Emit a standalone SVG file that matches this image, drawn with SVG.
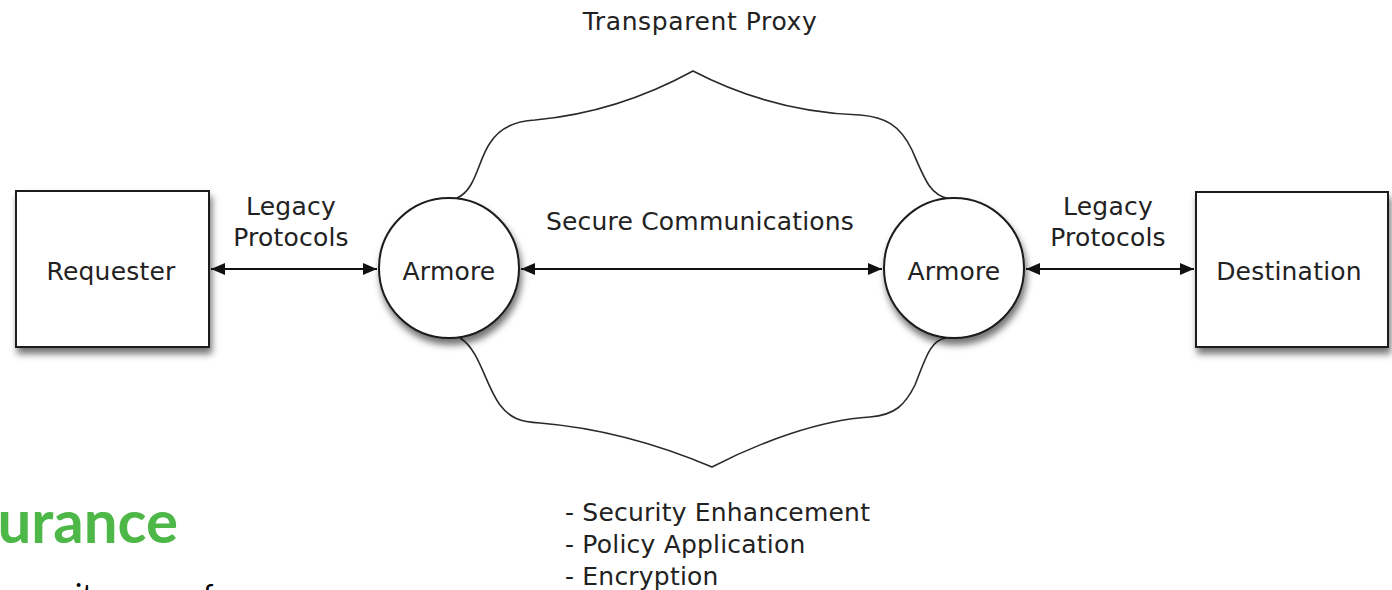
<svg xmlns="http://www.w3.org/2000/svg" width="1392" height="590" viewBox="0 0 1392 590">
<defs>
<style>
.lbl{font-family:"DejaVu Sans","Liberation Sans",sans-serif;font-size:25px;fill:#222;letter-spacing:0.2px;}
.node{fill:#fff;stroke:#1a1a1a;stroke-width:2;}
.conn{stroke:#111;stroke-width:2;fill:none;}
.cloud{fill:none;stroke:#2a2a2a;stroke-width:1.6;}
</style>
<filter id="sh" x="-20%" y="-20%" width="150%" height="150%">
<feDropShadow dx="2" dy="6" stdDeviation="3.5" flood-color="#000" flood-opacity="0.55"/>
</filter>
<marker id="ah" viewBox="0 0 14 12" refX="14" refY="6" markerWidth="14" markerHeight="12" markerUnits="userSpaceOnUse" orient="auto-start-reverse">
<path d="M0,0 L14,6 L0,12 z" fill="#111"/>
</marker>
</defs>
<rect width="1392" height="590" fill="#fff"/>

<g id="proxy">
<path class="cloud" d="M457,198 C476,190 478,160 490,143 C500,127 515,121 535,120 C590,115 640,100 693,71 C745,98 800,113 860,115 C885,117 900,125 912,150 C925,180 930,195 949,199"/>
<path class="cloud" d="M460,338 C480,350 485,385 500,405 C510,418 520,422 540,423 C600,428 660,445 712,467 C760,442 820,420 870,417 C895,415 905,405 915,385 C925,360 930,340 946,338"/>
<text class="lbl" x="700" y="30" text-anchor="middle" style="letter-spacing:0.6px">Transparent Proxy</text>
<text class="lbl" x="700" y="230" text-anchor="middle">Secure Communications</text>
<text class="lbl" x="565" y="521">- Security Enhancement</text>
<text class="lbl" x="565" y="553">- Policy Application</text>
<text class="lbl" x="565" y="585">- Encryption</text>
</g>

<g id="requester">
<rect class="node" x="16" y="191" width="193" height="156" filter="url(#sh)"/>
<text class="lbl" x="111" y="280" text-anchor="middle">Requester</text>
</g>

<g id="armore-left">
<circle class="node" cx="449" cy="268" r="70" filter="url(#sh)"/>
<text class="lbl" x="449" y="280" text-anchor="middle">Armore</text>
</g>

<g id="armore-right">
<circle class="node" cx="954" cy="268" r="70" filter="url(#sh)"/>
<text class="lbl" x="954" y="280" text-anchor="middle">Armore</text>
</g>

<g id="destination">
<rect class="node" x="1196" y="192" width="192" height="155" filter="url(#sh)"/>
<text class="lbl" x="1289" y="280" text-anchor="middle">Destination</text>
</g>

<g id="connectors">
<line class="conn" x1="211" y1="269" x2="377" y2="269" marker-start="url(#ah)" marker-end="url(#ah)"/>
<line class="conn" x1="521" y1="269" x2="882" y2="269" marker-start="url(#ah)" marker-end="url(#ah)"/>
<line class="conn" x1="1026" y1="269" x2="1194" y2="269" marker-start="url(#ah)" marker-end="url(#ah)"/>
<text class="lbl" x="291" y="215" text-anchor="middle">Legacy</text>
<text class="lbl" x="291" y="246" text-anchor="middle">Protocols</text>
<text class="lbl" x="1108" y="215" text-anchor="middle">Legacy</text>
<text class="lbl" x="1108" y="246" text-anchor="middle">Protocols</text>
</g>

<g id="slide-fragment">
<text x="178" y="543" text-anchor="end" font-family="Lato, 'Open Sans', sans-serif" font-weight="bold" font-size="60" fill="#4db848">urance</text>
<text x="75" y="606" font-family="Lato, 'Open Sans', sans-serif" font-size="30" fill="#000">it</text>
<text x="203" y="606" font-family="Lato, 'Open Sans', sans-serif" font-size="30" fill="#000">f</text>
</g>
</svg>
